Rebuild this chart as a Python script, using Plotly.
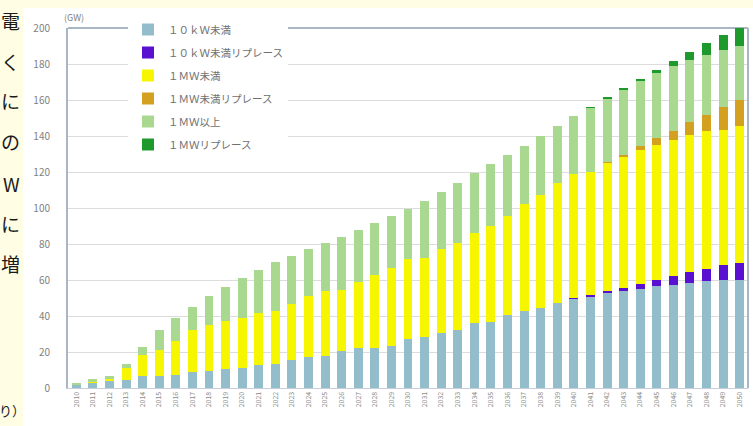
import plotly.graph_objects as go

years = [str(y) for y in range(2010, 2051)]

under10kw = [2.0, 3.2, 4.2, 4.7, 6.5, 6.8, 7.4, 9.0, 9.2, 10.6,
             11.0, 13.0, 13.2, 15.5, 17.3, 18.0, 20.5, 22.0, 22.4, 23.2,
             27.0, 28.5, 30.6, 32.5, 36.2, 36.6, 40.3, 42.7, 44.5, 47.3,
             49.5, 51.0, 52.8, 54.0, 55.2, 56.5, 57.4, 58.3, 59.3, 59.8, 60.2]
under10kw_rep = [0]*30 + [0.4, 0.6, 1.2, 1.8, 2.6, 3.3, 5.0, 6.0, 6.9, 8.3, 9.3]
under1mw = [0.2, 0.6, 1.0, 6.5, 12.0, 14.2, 18.6, 23.0, 25.8, 26.4,
            28.0, 28.8, 29.5, 30.9, 33.7, 35.8, 33.8, 37.0, 40.3, 43.6,
            44.4, 43.8, 46.7, 48.1, 49.8, 53.4, 55.1, 59.3, 63.0, 66.7,
            69.1, 68.4, 71.0, 72.9, 74.7, 75.2, 75.6, 76.4, 76.4, 75.4, 75.9]
under1mw_rep = [0]*32 + [0.3, 0.6, 1.8, 3.7, 5.0, 7.0, 9.3, 12.4, 14.8]
over1mw = [0.6, 1.0, 1.4, 2.3, 4.5, 11.0, 13.0, 13.0, 16.0, 19.0,
           22.0, 24.0, 27.3, 27.2, 26.0, 26.5, 29.7, 29.0, 29.1, 29.0,
           28.1, 31.7, 31.7, 33.4, 33.5, 34.7, 34.3, 32.7, 32.5, 31.4,
           32.2, 35.7, 35.7, 36.7, 36.1, 36.4, 35.8, 34.4, 33.3, 32.1, 29.7]
over1mw_rep = [0]*31 + [0.3, 0.5, 0.7, 1.3, 1.8, 3.1, 4.6, 6.5, 8.3, 10.5]

series_names = ["１０ｋＷ未満", "１０ｋＷ未満リプレース", "１ＭＷ未満",
                "１ＭＷ未満リプレース", "１ＭＷ以上", "１ＭＷリプレース"]
series_vals = [under10kw, under10kw_rep, under1mw, under1mw_rep, over1mw, over1mw_rep]
colors = ["#93BDCB", "#5A10D0", "#F6F600", "#D4A020", "#A9D890", "#1E9A2C"]

ytick_vals = list(range(0, 201, 20))

side_chars = ["電", "く", "に", "の", "W", "に", "増"]
side_y = [20, 61, 101, 141, 183, 223, 263]
bottom_note = "り）"

fig = go.Figure()
for i, (name, vals, col) in enumerate(zip(series_names, series_vals, colors)):
    fig.add_trace(go.Bar(x=years, y=vals, name=name, marker_color=col,
                         marker_line_width=0, legendgroup=f"g{i}"))

W, H = 753, 426
L, R, T, B = 68, 5, 28, 38
pw, ph = W - L - R, H - T - B

def px(x):
    return (x - L) / pw

def py(y):
    return (H - B - y) / ph

shapes = [
    dict(type="rect", xref="paper", yref="paper", x0=px(-5), x1=px(W + 5),
         y0=py(-5), y1=py(8), fillcolor="#FFFDE4", line_width=0, layer="below"),
    dict(type="rect", xref="paper", yref="paper", x0=px(-5), x1=px(23),
         y0=py(H + 5), y1=py(-5), fillcolor="#FFFDE4", line_width=0, layer="below"),
    dict(type="line", xref="paper", yref="paper", x0=0, x1=1, y0=1, y1=1,
         line=dict(color="#A9B6C4", width=2), layer="below"),
    dict(type="line", xref="paper", yref="paper", x0=1, x1=1, y0=0, y1=1,
         line=dict(color="#A9B6C4", width=2)),
]

annotations = [
    dict(text="(GW)", xref="paper", yref="paper", x=px(62), y=py(17),
         xanchor="left", yanchor="middle", showarrow=False,
         font=dict(size=9, color="#7F7F7F", family="Noto Sans CJK JP")),
]
for ch, yy in zip(side_chars, side_y):
    annotations.append(dict(text=ch, xref="paper", yref="paper", x=px(22), y=py(yy),
                            xanchor="right", yanchor="middle", showarrow=False,
                            font=dict(size=19, color="#1A1A1A", family="Noto Sans CJK JP")))
annotations.append(dict(text=bottom_note, xref="paper", yref="paper", x=px(27), y=py(410),
                        xanchor="right", yanchor="middle", showarrow=False,
                        font=dict(size=13, color="#1A1A1A", family="Noto Sans CJK JP")))

fig.update_layout(
    width=W, height=H,
    margin=dict(l=L, r=R, t=T, b=B, pad=0),
    barmode="stack",
    bargap=0.46,
    paper_bgcolor="white",
    plot_bgcolor="white",
    font=dict(family="Noto Sans CJK JP", color="#7F7F7F"),
    shapes=shapes,
    annotations=annotations,
    showlegend=True,
    legend=dict(x=px(128), y=py(15), xanchor="left", yanchor="top",
                bgcolor="white", borderwidth=0, traceorder="grouped",
                tracegroupgap=4, itemwidth=30,
                font=dict(size=10.5, color="#6F6F6F", family="Noto Sans CJK JP")),
    xaxis=dict(type="category", tickangle=-90, tickfont=dict(size=7, color="#8A8A8A"),
               showgrid=False, showline=True, linecolor="#C8CED6", linewidth=1,
               ticks=""),
    yaxis=dict(range=[0, 200], tickvals=ytick_vals, showgrid=True, gridcolor="#DCDCDC",
               gridwidth=1, zeroline=False, showline=True, linecolor="#A9B6C4",
               linewidth=2, ticks="", ticklabelstandoff=14,
               tickfont=dict(size=10, color="#7F7F7F")),
)

fig.write_html("out.html", config={"displayModeBar": False},
               post_script="document.body.style.margin='0';document.body.style.overflow='hidden';")
